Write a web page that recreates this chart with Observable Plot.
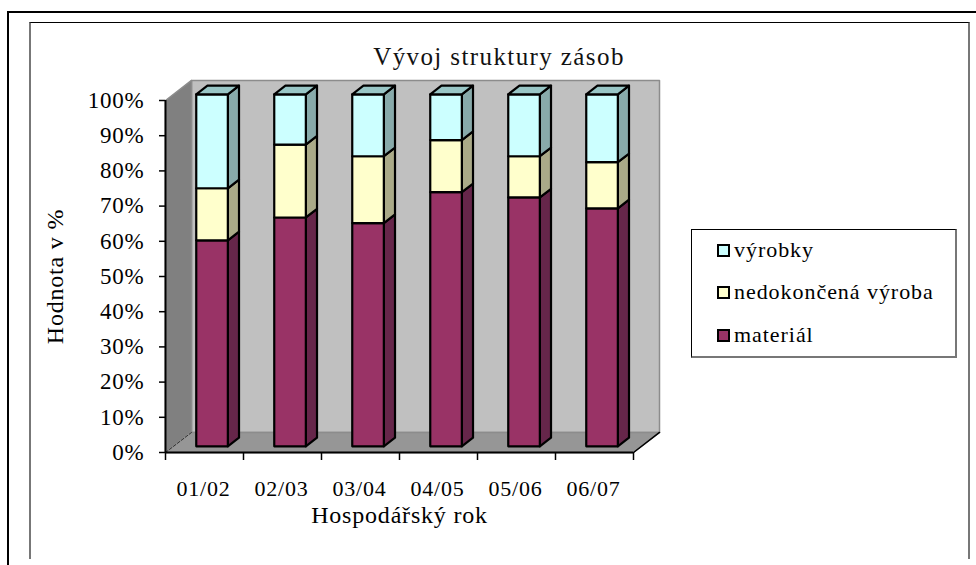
<!DOCTYPE html>
<html><head><meta charset="utf-8">
<script src="https://cdn.jsdelivr.net/npm/d3@7"></script>
<script src="https://cdn.jsdelivr.net/npm/@observablehq/plot@0.6"></script>
<style>
html,body{margin:0;padding:0;background:#fff;width:976px;height:565px;overflow:hidden;}
#page{position:relative;width:976px;height:565px;font-family:"Liberation Serif",serif;color:#000;overflow:hidden;}
#page svg{position:absolute;left:0;top:0;}
.abs{position:absolute;box-sizing:border-box;}
#title{left:300px;width:398px;top:43px;text-align:center;font-size:25px;line-height:28px;letter-spacing:1.4px;color:#111;}
#legend{left:691px;top:229px;width:266px;height:129px;border:1px solid #000;border-right:2px solid #777;border-bottom:2px solid #777;background:#fff;font-size:22px;}
.row{position:absolute;left:25px;display:flex;align-items:center;height:24px;letter-spacing:0.95px;white-space:nowrap;}
.sw{width:13px;height:13px;border:2px solid #000;box-sizing:border-box;margin-right:4px;display:inline-block;}
</style></head>
<body>
<div id="page">
  <div class="abs" style="left:8px;top:11px;width:968px;height:2px;background:#000"></div>
  <div class="abs" style="left:7px;top:11px;width:2px;height:554px;background:#000"></div>
  <div class="abs" style="left:29px;top:22px;width:941px;height:537px;border-top:1px solid #000;border-left:2px solid #777;border-right:2px solid #777;border-top-color:#000;border-bottom:0"></div>
  <div id="chart"></div>
  <div id="title" class="abs">Vývoj struktury zásob</div>
  <div id="legend" class="abs"></div>
</div>
<script>
const years = ["01/02", "02/03", "03/04", "04/05", "05/06", "06/07"];
const material = [58.5, 65, 63.4, 72.2, 70.7, 67.6];
const nedokoncena = [14.8, 20.7, 19, 14.8, 11.7, 13.1];
const vyrobky = [26.7, 14.3, 17.6, 13, 17.6, 19.3];
const seriesNames = ["materiál", "nedokončená výroba", "výrobky"];
const seriesValues = [material, nedokoncena, vyrobky];
const frontColors = ["#993366", "#ffffcc", "#ccffff"];
const sideColors = ["#66264a", "#aaaa88", "#88aaaa"];
const topColor = "#99c6c6";
const wallColor = "#c0c0c0";
const sideWallColor = "#808080";
const floorColor = "#969696";
const yTicks = [0, 10, 20, 30, 40, 50, 60, 70, 80, 90, 100];
const xTitle = "Hospodářský rok";
const yTitle = "Hodnota v %";

// depth of the 3-D box in data units
const depthX = 1 / 3, depthY = 5.7;
const barWidth = 0.405, frontAt = 0.29, backAt = 0.72;

const wallTop = 100, n = years.length;
const walls = [];
const poly = (arr, id, fill, pts) => pts.concat([pts[0]]).forEach(([x, y]) => arr.push({id, fill, x, y}));
poly(walls, "back", wallColor, [[depthX, depthY], [n + depthX, depthY], [n + depthX, wallTop + depthY], [depthX, wallTop + depthY]]);
poly(walls, "left", sideWallColor, [[0, 0], [depthX, depthY], [depthX, wallTop + depthY], [0, wallTop]]);
poly(walls, "floor", floorColor, [[0, 0], [n, 0], [n + depthX, depthY], [depthX, depthY]]);

const bars = [];
years.forEach((yr, i) => {
  const x0 = i + 0.5 - barWidth / 2 + depthX * frontAt, x1 = x0 + barWidth;
  const bx = depthX * (backAt - frontAt);
  const fy = depthY * 0.31, by = depthY * 0.74;
  let base = 0;
  seriesValues.forEach((vals, s) => {
    const top = base + vals[i];
    poly(bars, `${i}-${s}-s`, sideColors[s], [[x1, base + fy], [x1 + bx, base + by], [x1 + bx, top + by], [x1, top + fy]]);
    poly(bars, `${i}-${s}-f`, frontColors[s], [[x0, base + fy], [x1, base + fy], [x1, top + fy], [x0, top + fy]]);
    base = top;
  });
  poly(bars, `${i}-top`, topColor, [[x0, base + fy], [x1, base + fy], [x1 + bx, base + by], [x0 + bx, base + by]]);
});

const chart = Plot.plot({
  width: 976, height: 565,
  marginLeft: 165, marginRight: 343, marginTop: 100, marginBottom: 113,
  style: {fontFamily: '"Liberation Serif", serif', fontSize: "21px", background: "transparent", color: "#000", letterSpacing: "0.8px"},
  x: {domain: [0, n], axis: null},
  y: {domain: [0, 100], axis: null},
  color: {type: "identity"},
  marks: [
    Plot.line(walls, {x: "x", y: "y", z: "id", fill: "fill", stroke: "#8c8c8c", strokeWidth: 1.5}),
    Plot.line([[0, 0], [depthX, depthY]], {x: d => d[0], y: d => d[1], stroke: "#333", strokeWidth: 1, strokeDasharray: "3,2"}),
    Plot.line(bars, {x: "x", y: "y", z: "id", fill: "fill", stroke: "#000", strokeWidth: 2.2, strokeLinejoin: "round"}),
    Plot.line([[n, 0], [n + depthX, depthY]], {x: d => d[0], y: d => d[1], stroke: "#000", strokeWidth: 1.5}),
    Plot.ruleY([0], {x1: 0, x2: n, stroke: "#000", strokeWidth: 2}),
    Plot.ruleX([0], {y1: 0, y2: 100, stroke: "#000", strokeWidth: 2}),
    Plot.axisY({ticks: yTicks, tickFormat: d => d + "%", tickSize: 6, tickPadding: 15, stroke: "#000", strokeWidth: 1.5, label: null, fontSize: 23}),
    Plot.axisX({ticks: d3.range(n + 1), tickSize: 8, tickFormat: () => "", stroke: "#000", strokeWidth: 1.5, label: null}),
    Plot.axisX({ticks: years.map((_, i) => i + 0.5), dx: -1, tickSize: 0, tickPadding: 28, tickFormat: d => years[d - 0.5], label: null, fontSize: 22}),
    Plot.text([xTitle], {x: n / 2, y: 0, dy: 63, text: d => d, fontSize: 24}),
    Plot.text([yTitle], {x: 0, y: 50, dx: -110, rotate: -90, text: d => d, fontSize: 24})
  ]
});
document.getElementById("chart").appendChild(chart);

const legend = document.getElementById("legend");
const rowTops = [8, 50, 93];
[2, 1, 0].forEach((s, k) => {
  const row = document.createElement("div");
  row.className = "row";
  row.style.top = rowTops[k] + "px";
  const sw = document.createElement("span");
  sw.className = "sw";
  sw.style.background = frontColors[s];
  row.appendChild(sw);
  row.appendChild(document.createTextNode(seriesNames[s]));
  legend.appendChild(row);
});
</script>
</body></html>
